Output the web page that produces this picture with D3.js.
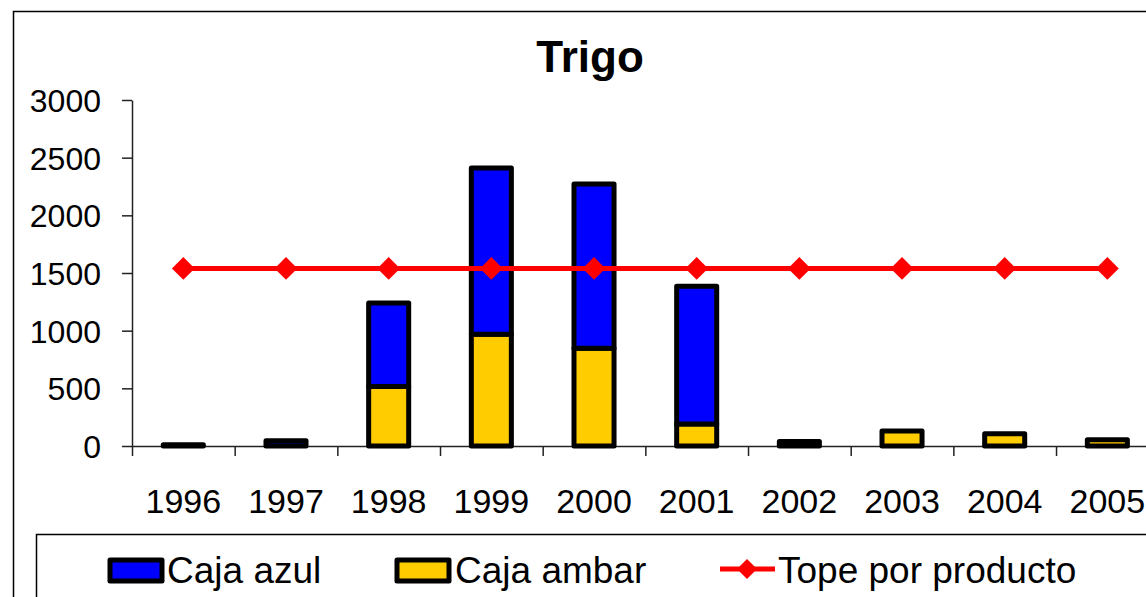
<!DOCTYPE html>
<html>
<head>
<meta charset="utf-8">
<script src="https://cdn.jsdelivr.net/npm/d3@7"></script>
<style>
  body { margin: 0; background: #fff; }
  svg text { font-family: "Liberation Sans", Arial, sans-serif; fill: #000; }
</style>
</head>
<body>
<div id="chart"></div>
<script>
// data
var years = ["1996","1997","1998","1999","2000","2001","2002","2003","2004","2005"];
var cajaAzul = [10, 45, 725, 1440, 1425, 1195, 40, 0, 0, 0];
var cajaAmbar = [0, 0, 515, 970, 847, 190, 0, 130, 107, 55];
var tope = [1540, 1540, 1540, 1540, 1540, 1540, 1540, 1540, 1540, 1540];
var yTicks = [0, 500, 1000, 1500, 2000, 2500, 3000];
var seriesNames = ["Caja azul", "Caja ambar", "Tope por producto"];

var width = 1146, height = 597;
var plotLeft = 132, plotBottom = 446, plotTop = 100;
var step = 102.67;

var svg = d3.select("#chart").append("svg")
  .attr("width", width)
  .attr("height", height);

// outer chart frame (runs off the right/bottom edge)
svg.append("rect")
  .attr("x", 13.5).attr("y", 11.5)
  .attr("width", 1200).attr("height", 700)
  .attr("fill", "none").attr("stroke", "#000").attr("stroke-width", 1.5);

svg.append("text")
  .attr("x", 590).attr("y", 72)
  .attr("text-anchor", "middle")
  .style("font-size", "44px").style("font-weight", "bold")
  .text("Trigo");

var x = d3.scaleBand()
  .domain(years)
  .range([plotLeft, plotLeft + step * years.length])
  .paddingInner(0.61)
  .paddingOuter(0.305);

var xEdge = d3.scaleLinear().domain([0, years.length]).range([plotLeft, plotLeft + step * years.length]);

var y = d3.scaleLinear().domain([0, 3000]).range([plotBottom, plotTop]);

// y axis
var yAxis = svg.append("g")
  .attr("transform", "translate(" + plotLeft + ",0)")
  .call(d3.axisLeft(y).tickValues(yTicks).tickFormat(d3.format("d")).tickSize(10).tickSizeOuter(0).tickPadding(21));
yAxis.select(".domain").attr("stroke", "#222").attr("stroke-width", 1.5);
yAxis.selectAll(".tick line").attr("stroke", "#222").attr("stroke-width", 1.5);
yAxis.selectAll("text").style("font-size", "32px").attr("dy", "0.36em");

// x axis line + boundary ticks
var xAxis = svg.append("g")
  .attr("transform", "translate(0," + plotBottom + ")")
  .call(d3.axisBottom(xEdge).tickValues(d3.range(years.length + 1)).tickFormat("").tickSize(10).tickSizeOuter(0));
xAxis.select(".domain").attr("stroke", "#222").attr("stroke-width", 1.5);
xAxis.selectAll(".tick line").attr("stroke", "#222").attr("stroke-width", 1.5);

// year labels
var xLab = svg.append("g")
  .attr("transform", "translate(0," + plotBottom + ")")
  .call(d3.axisBottom(x).tickSize(0).tickPadding(43));
xLab.select(".domain").remove();
xLab.selectAll("text").style("font-size", "34px");

// stacked bars
var rows = years.map(function(yr, i) {
  return { year: yr, ambar: cajaAmbar[i], azul: cajaAzul[i] };
});
var stack = d3.stack().keys(["ambar", "azul"]);
var colors = { ambar: "#ffcc00", azul: "#0000ff" };

svg.append("g").selectAll("g")
  .data(stack(rows))
  .enter().append("g")
  .attr("fill", function(d) { return colors[d.key]; })
  .selectAll("rect")
  .data(function(d) { return d.filter(function(p) { return p[1] > p[0]; }); })
  .enter().append("rect")
  .attr("x", function(d) { return x(d.data.year); })
  .attr("y", function(d) { return y(d[1]); })
  .attr("width", x.bandwidth())
  .attr("height", function(d) { return y(d[0]) - y(d[1]); })
  .attr("stroke", "#000")
  .attr("stroke-width", 5)
  .attr("stroke-linejoin", "round");

// tope line
var line = d3.line()
  .x(function(d, i) { return x(years[i]) + x.bandwidth() / 2; })
  .y(function(d) { return y(d); });

svg.append("path")
  .datum(tope)
  .attr("d", line)
  .attr("fill", "none")
  .attr("stroke", "#ff0000")
  .attr("stroke-width", 5);

var diamond = d3.symbol(d3.symbolSquare, 260);
svg.append("g").selectAll("path")
  .data(tope)
  .enter().append("path")
  .attr("d", diamond)
  .attr("fill", "#ff0000")
  .attr("transform", function(d, i) {
    return "translate(" + (x(years[i]) + x.bandwidth() / 2) + "," + y(d) + ") rotate(45)";
  });

// legend
svg.append("rect")
  .attr("x", 36.5).attr("y", 534.5)
  .attr("width", 1200).attr("height", 200)
  .attr("fill", "#fff").attr("stroke", "#000").attr("stroke-width", 1.5);

var lg = svg.append("g");
[{ x: 110, c: colors.azul, tx: 167, name: seriesNames[0] },
 { x: 397, c: colors.ambar, tx: 455, name: seriesNames[1] }].forEach(function(item) {
  lg.append("rect")
    .attr("x", item.x).attr("y", 560)
    .attr("width", 52).attr("height", 21)
    .attr("fill", item.c).attr("stroke", "#000").attr("stroke-width", 5)
    .attr("stroke-linejoin", "round");
  lg.append("text")
    .attr("x", item.tx).attr("y", 583)
    .style("font-size", "37px")
    .text(item.name);
});

lg.append("line")
  .attr("x1", 720).attr("x2", 775).attr("y1", 569).attr("y2", 569)
  .attr("stroke", "#ff0000").attr("stroke-width", 5);
lg.append("path")
  .attr("d", d3.symbol(d3.symbolSquare, 200))
  .attr("fill", "#ff0000")
  .attr("transform", "translate(747,569) rotate(45)");
lg.append("text")
  .attr("x", 778).attr("y", 583)
  .style("font-size", "37px")
  .text(seriesNames[2]);
</script>
</body>
</html>
